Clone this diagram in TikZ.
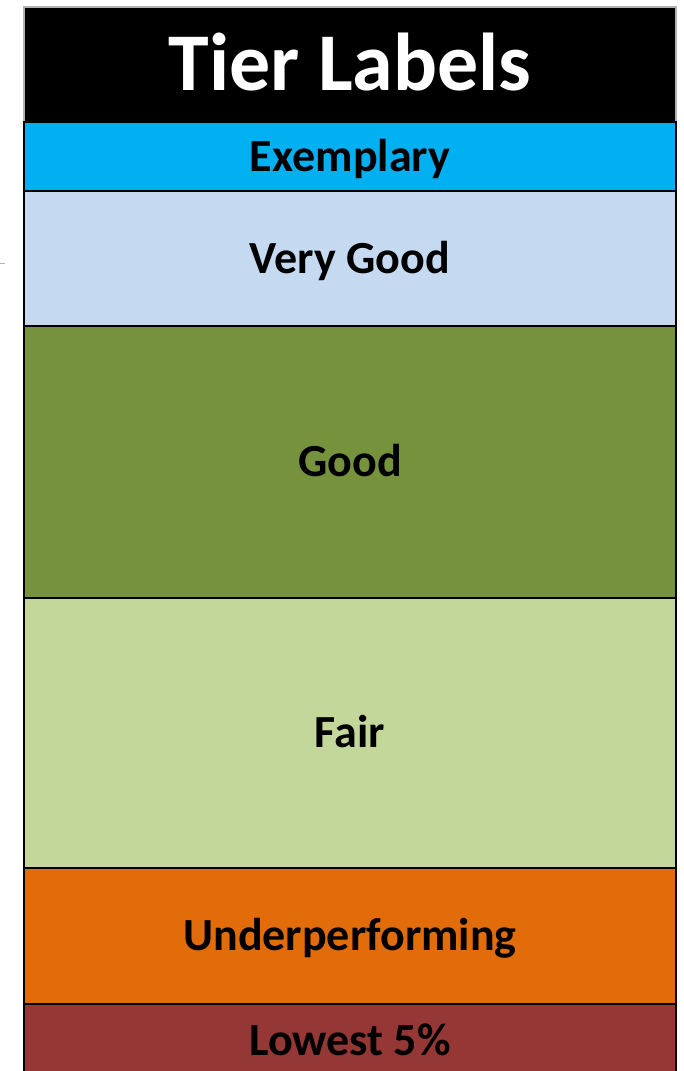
\documentclass[tikz,border=0pt]{standalone}
\usepackage{fontspec}
\setmainfont{Carlito}
\usetikzlibrary{positioning}

\definecolor{exemplaryblue}{HTML}{00B0F0}
\definecolor{verygoodblue}{HTML}{C5D9F1}
\definecolor{goodgreen}{HTML}{76923C}
\definecolor{fairgreen}{HTML}{C4D79B}
\definecolor{underorange}{HTML}{E26B0A}
\definecolor{lowestred}{HTML}{953735}

\tikzset{
    tier/.style={draw=black, line width=1.3pt, minimum width=652pt, inner sep=0pt, outer sep=0pt,
        text=black, text height=29pt, text depth=0pt, font=\fontsize{46}{46}\selectfont\bfseries},
    tierhead/.style={tier, draw=gray!60, fill=black, text=white, text height=52pt,
        font=\fontsize{82}{82}\selectfont\bfseries}
}

\begin{document}
\begin{tikzpicture}[x=1pt, y=1pt]
    \useasboundingbox (0,0) rectangle (684,-1071);
    \clip (0,0) rectangle (684,-1071);
    \node[tierhead, minimum height=115pt] (head) at (350,-64.5) {Tier Labels};
    \node[tier, fill=exemplaryblue, minimum height=69pt, below=0pt of head] (exemplary) {Exemplary};
    \node[tier, fill=verygoodblue, minimum height=135pt, below=0pt of exemplary] (verygood) {Very Good};
    \node[tier, fill=goodgreen, minimum height=272pt, below=0pt of verygood] (good) {Good};
    \node[tier, fill=fairgreen, minimum height=270pt, below=0pt of good] (fair) {Fair};
    \node[tier, fill=underorange, minimum height=136pt, below=0pt of fair] (under) {Underperforming};
    \node[tier, fill=lowestred, minimum height=74pt, below=0pt of under] (lowest) {Lowest 5\%};
    \draw[gray!60, line width=1pt] (0,-263) -- (5,-263);
\end{tikzpicture}
\end{document}
